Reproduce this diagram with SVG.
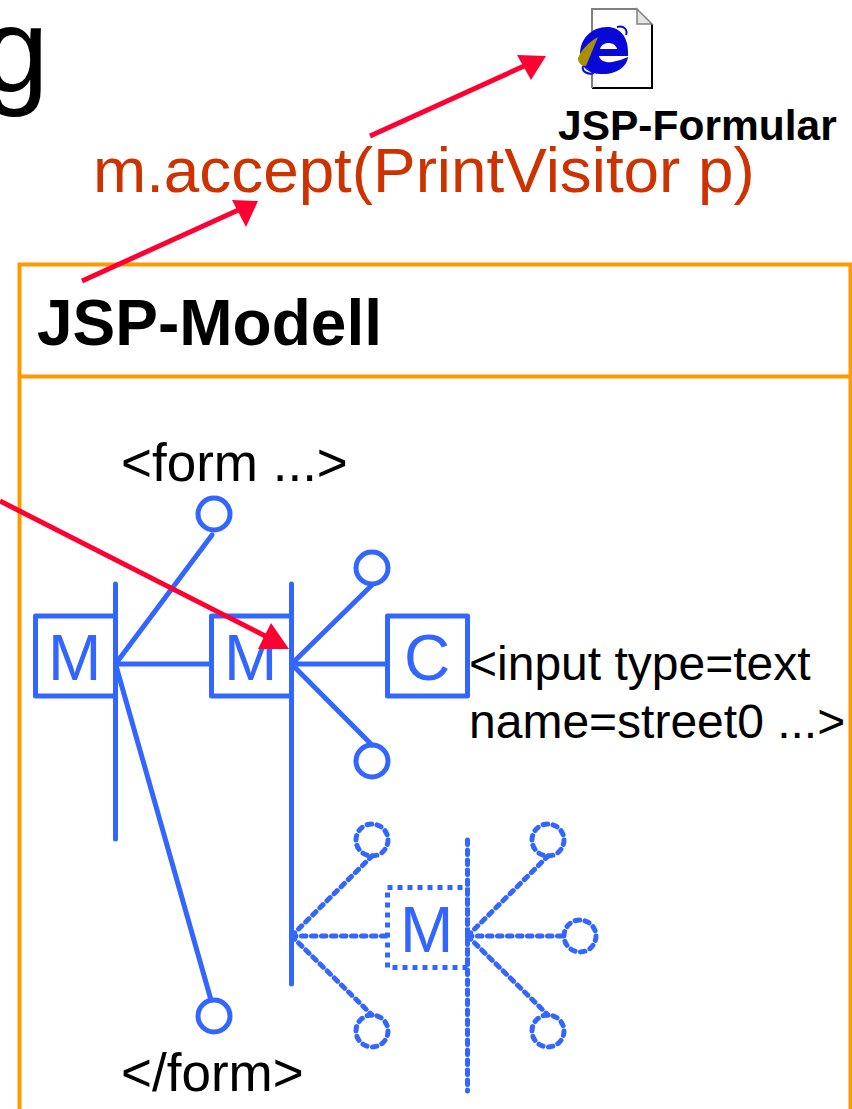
<svg xmlns="http://www.w3.org/2000/svg" width="852" height="1109" viewBox="0 0 852 1109">
<style>
text{font-family:"Liberation Sans",Arial,sans-serif}
.k{fill:#000}
.b{fill:#3366ff;font-size:64px}
.l{font-size:48px;fill:#000}
.f{font-size:53px;fill:#000}
.s{stroke:#3366ff;stroke-width:5;fill:none;stroke-linecap:round;stroke-linejoin:round}
.d{stroke:#3366ff;stroke-width:5;fill:none;stroke-dasharray:4.500 5.500;stroke-linecap:round}
.v{stroke:#3366ff;stroke-width:5;fill:none;stroke-dasharray:5 5}
.r{stroke:#ff0033;stroke-width:5;fill:none}
.a{fill:#ff0033}
.o{stroke:#ff9900;stroke-width:4;fill:none}
</style>
<rect width="852" height="1109" fill="#fff"/>
<g id="title"><text x="-18" y="92" font-size="120" class="k">g</text></g>
<g id="jsp-formular">
<path d="M592 9H637L652 24V88H592Z" fill="#fff"/>
<path d="M652 24V88H592" fill="none" stroke="#000" stroke-width="2"/>
<path d="M637 9V24H652Z" fill="#e4e4e4" stroke="#808080" stroke-width="1.500"/>
<path d="M592 88V9H637" stroke="#808080" stroke-width="2" fill="none"/>
<path d="M580 55C580 38 592 27 607 27C620 27 628 37 628 52V56H599C600 61 606 63 612 62C618 61 623 59 628 57C627 67 616 74 604 74C590 75 580 68 580 55Z" fill="#0808d8"/>
<path d="M600 49C602 41 615 41 617 49Z" fill="#fff"/>
<path d="M578 58C581 50 589 42 598 37L586 66C580 66 578 62 578 58Z" fill="#a89000"/>
<path d="M617 27C624 25 628 30 626 35M583 66C581 72 589 75 594 73" fill="none" stroke="#0808f0" stroke-width="2"/>
<text x="558" y="140" font-size="42.500" font-weight="700" class="k">JSP-Formular</text>
</g>
<g id="call"><text x="93" y="192" font-size="63.800" fill="#cc3300">m.accept(PrintVisitor p)</text></g>
<g id="model-frame">
<path class="o" d="M852 264.500H19.500V1109M19.500 376.500H852M850.500 264V1109"/>
<text x="37" y="345" font-size="64" font-weight="700" class="k">JSP-Modell</text>
</g>
<g id="m1">
<rect class="s" x="35.500" y="616" width="80" height="80"/>
<text class="b" x="48" y="680">M</text>
</g>
<g id="m2">
<rect class="s" x="211.500" y="616" width="80" height="80"/>
<text class="b" x="224" y="680">M</text>
</g>
<g id="c">
<rect class="s" x="387.500" y="616" width="80" height="80"/>
<text class="b" x="404" y="680">C</text>
</g>
<g id="m3">
<rect class="v" x="387.500" y="887.500" width="80" height="80"/>
<text class="b" x="400" y="952">M</text>
</g>
<g id="form-open"><circle class="s" cx="214" cy="514" r="16"/><text class="f" x="121" y="481">&lt;form ...&gt;</text></g>
<g id="form-close"><circle class="s" cx="214" cy="1016" r="16"/><text class="f" x="121" y="1091">&lt;/form&gt;</text></g>
<g id="input-label"><text class="l" x="469" y="680">&lt;input type=text</text><text class="l" x="469" y="738">name=street0 ...&gt;</text></g>
<g id="n1"><circle class="s" cx="372" cy="568" r="16"/></g>
<g id="n2"><circle class="s" cx="372" cy="761" r="16"/></g>
<g id="n3"><circle class="d" cx="372" cy="840" r="16"/></g>
<g id="n4"><circle class="d" cx="372" cy="1031" r="16"/></g>
<g id="n5"><circle class="d" cx="548" cy="840" r="16"/></g>
<g id="n6"><circle class="d" cx="580" cy="936" r="16"/></g>
<g id="n7"><circle class="d" cx="548" cy="1031" r="16"/></g>
<g id="connectors">
<path class="s" d="M115.500 584V839M291.500 584V984"/>
<path class="s" d="M115.500 664L212 535M115.500 664H211M115.500 664L211 1000M291.500 664L372 585M291.500 664H387M291.500 664L372 745"/>
<path class="d" d="M291.500 936L372 856M291.500 936H387M291.500 936L372 1015M467.500 840V1091M467.500 936L548 856M467.500 936H564M467.500 936L548 1015"/>
<path class="r" d="M82 281L245 207M370 136L533 62M0 501L277 642"/>
<path class="a" d="M258 201L232 200L246 227ZM546 56L517 55L531 80ZM289 649L271 623L258 649Z"/>
</g>
</svg>
